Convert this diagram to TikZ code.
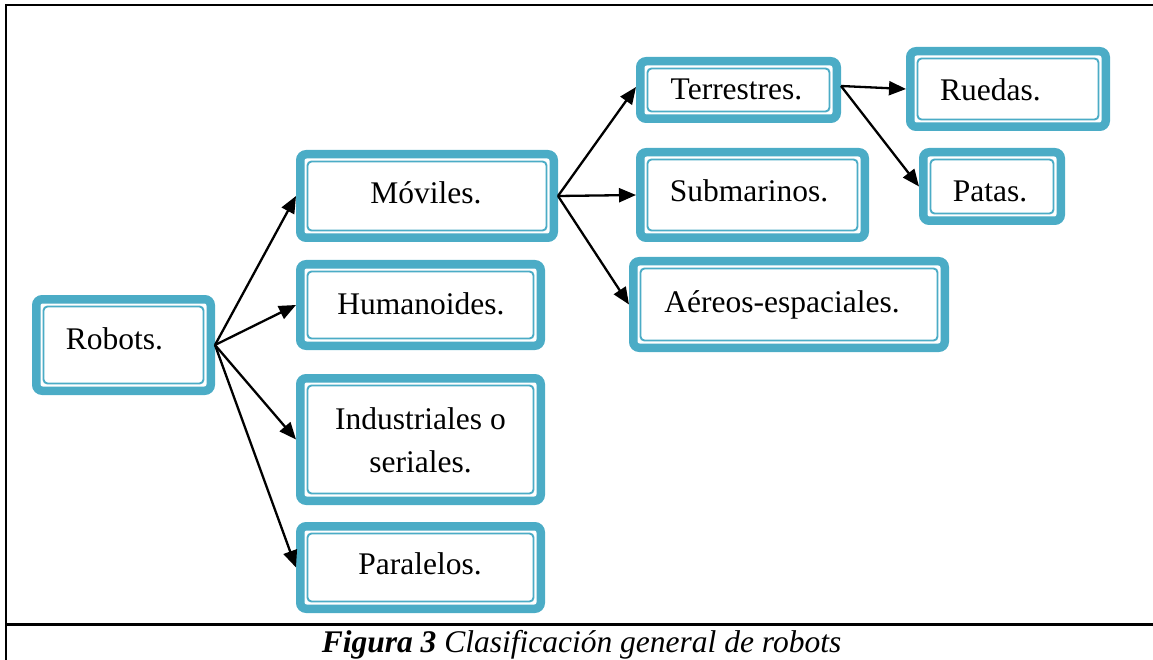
\documentclass[tikz,border=0pt]{standalone}
\usepackage{fontspec}
\setmainfont{Liberation Serif}
\usetikzlibrary{arrows.meta}
\definecolor{boxteal}{HTML}{4BACC6}
\tikzset{
  innerline/.style={draw=boxteal, line width=1.9pt, rounded corners=4pt},
  box/.style={draw=boxteal, line width=8.5pt, rounded corners=6pt, fill=white,
    inner sep=0pt, outer sep=4.25pt},
  txt/.style={anchor=base, inner sep=0pt, font=\fontsize{31.5}{43}\selectfont},
  arr/.style={line width=2.3pt, -{Triangle[length=17pt,width=14pt]}},
  frame/.style={line width=2.6pt, line join=miter}
}
\begin{document}
\begin{tikzpicture}[x=1pt,y=-1pt]
\useasboundingbox (0,0) rectangle (1153,660);
% frame
\draw[frame] (1153,5) -- (6,5) -- (6,660);
\draw[frame] (6,624.5) -- (1153,624.5);
% boxes
\node[box, minimum width=174.5, minimum height=91.5] (rob) at (123.5,345) {};
\node[box, minimum width=253.5, minimum height=83.5] (mov) at (427,196) {};
\node[box, minimum width=240.5, minimum height=81.5] (hum) at (420.5,305) {};
\node[box, minimum width=240.5, minimum height=122.5] (ind) at (420.5,439.5) {};
\node[box, minimum width=240.5, minimum height=82.5] (par) at (420.5,567.5) {};
\node[box, minimum width=196.5, minimum height=57.5] (ter) at (738.5,90) {};
\node[box, minimum width=224.5, minimum height=85.5] (sub) at (752.5,195) {};
\node[box, minimum width=311.5, minimum height=86.5] (aer) at (789,304.5) {};
\node[box, minimum width=195.5, minimum height=75.5] (rue) at (1008,89) {};
\node[box, minimum width=137.5, minimum height=68.5] (pat) at (992,186.5) {};
% inner double lines of the boxes
\foreach \n in {rob,mov,hum,ind,par,ter,sub,aer,rue,pat}
  \draw[innerline] ([xshift=11.5pt,yshift=-11.5pt]\n.north west) rectangle
                   ([xshift=-11.5pt,yshift=11.5pt]\n.south east);
% texts
\node[txt] (trob) at (114.5,349) {Robots.};
\node[txt] (tmov) at (426,204) {Móviles.};
\node[txt] (thum) at (421,314) {Humanoides.};
\node[txt, anchor=center, align=center] (tind) at (420.5,440) {Industriales o\\seriales.};
\node[txt] (tpar) at (420,574) {Paralelos.};
\node[txt] (tter) at (736.5,100) {Terrestres.};
\node[txt] (tsub) at (749,202) {Submarinos.};
\node[txt] (taer) at (782,312) {Aéreos-espaciales.};
\node[txt] (true) at (990.5,101) {Ruedas.};
\node[txt] (tpat) at (990,202) {Patas.};
% arrows
\draw[arr] (rob.east) -- (mov.west);
\draw[arr] (rob.east) -- (hum.west);
\draw[arr] (rob.east) -- (ind.west);
\draw[arr] (rob.east) -- (par.west);
\draw[arr] (mov.east) -- ([yshift=3pt]ter.west);
\draw[arr] (mov.east) -- (sub.west);
\draw[arr] (mov.east) -- (aer.west);
\draw[arr] ([yshift=4pt]ter.east) -- (rue.west);
\draw[arr] ([yshift=4pt]ter.east) -- (pat.west);
% caption
\node[txt] (cap) at (581.5,652) {\bfseries\itshape Figura 3 \mdseries Clasificación general de robots};
\end{tikzpicture}
\end{document}
